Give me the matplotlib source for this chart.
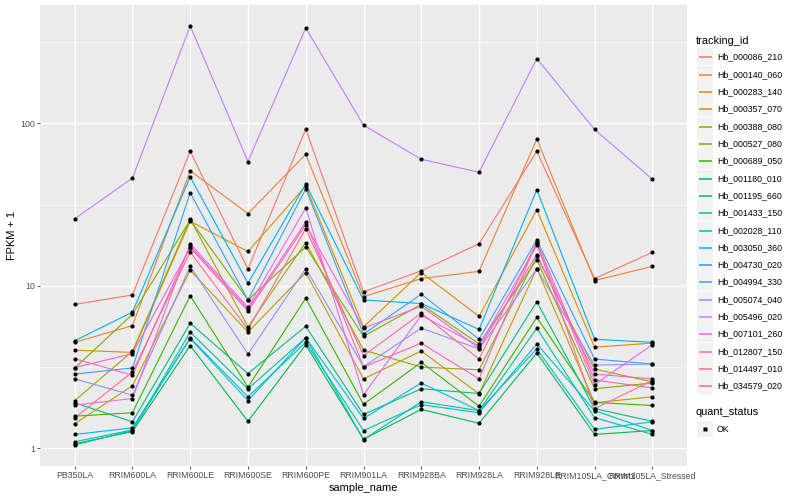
import numpy as np
import matplotlib.pyplot as plt
from matplotlib.patches import Rectangle
from matplotlib.ticker import FixedLocator, NullFormatter

plt.rcParams['font.family'] = ['Liberation Sans', 'DejaVu Sans']

samples = ['PB350LA', 'RRIM600LA', 'RRIM600LE', 'RRIM600SE', 'RRIM600PE', 'RRIM901LA',
           'RRIM928BA', 'RRIM928LA', 'RRIM928LE', 'RRIM105LA_Control', 'RRIM105LA_Stressed']

tracking_ids = ['Hb_000086_210', 'Hb_000140_060', 'Hb_000283_140', 'Hb_000357_070',
                'Hb_000388_080', 'Hb_000527_080', 'Hb_000689_050', 'Hb_001180_010',
                'Hb_001195_660', 'Hb_001433_150', 'Hb_002028_110', 'Hb_003050_360',
                'Hb_004730_020', 'Hb_004994_330', 'Hb_005074_040', 'Hb_005496_020',
                'Hb_007101_260', 'Hb_012807_150', 'Hb_014497_010', 'Hb_034579_020']

# ggplot default hue palette, 20 levels
colors = ['#F8766D', '#EA8331', '#D89000', '#C09B00', '#A3A500', '#7CAE00', '#39B600',
          '#00BB4E', '#00BF7D', '#00C1A3', '#00BFC4', '#00BAE0', '#00B0F6', '#35A2FF',
          '#9590FF', '#C77CFF', '#E76BF3', '#FA62DB', '#FF62BC', '#FF6C91']

# FPKM + 1, one list per gene, in sample order
hb_000086_210 = [7.7, 8.8, 67.4, 12.7, 92.3, 9.2, 12.4, 18.2, 67.4, 11.1, 16.1]
hb_000140_060 = [4.5, 5.7, 51.1, 27.9, 64.6, 8.6, 11.1, 12.3, 80.2, 10.8, 13.2]
hb_000283_140 = [4.03, 3.9, 25.0, 16.3, 41.2, 5.6, 12.1, 6.5, 29.4, 4.2, 4.45]
hb_000357_070 = [1.42, 2.43, 12.5, 5.2, 12.1, 2.68, 3.98, 2.17, 12.8, 1.91, 2.08]
hb_000388_080 = [1.97, 3.96, 25.8, 5.6, 18.5, 4.03, 3.17, 3.05, 15.2, 3.08, 2.57]
hb_000527_080 = [3.12, 6.7, 25.5, 8.2, 17.4, 4.9, 7.7, 4.4, 14.5, 2.33, 2.53]
hb_000689_050 = [1.58, 1.66, 8.7, 2.39, 8.4, 1.87, 3.39, 1.82, 6.4, 1.92, 1.84]
hb_001180_010 = [1.07, 1.27, 4.3, 1.47, 4.35, 1.14, 1.74, 1.43, 3.87, 1.22, 1.29]
hb_001195_660 = [1.91, 1.46, 5.9, 2.89, 5.65, 1.62, 2.33, 2.18, 8.0, 1.76, 1.47]
hb_001433_150 = [1.05, 1.29, 5.2, 2.33, 4.8, 1.135, 1.94, 1.71, 5.5, 1.55, 1.22]
hb_002028_110 = [1.10, 1.30, 4.8, 2.08, 4.5, 1.29, 1.86, 1.66, 4.4, 1.71, 1.29]
hb_003050_360 = [1.22, 1.34, 4.75, 1.97, 4.8, 1.53, 2.53, 1.71, 4.1, 1.31, 1.46]
hb_004730_020 = [4.6, 6.9, 46.9, 10.4, 42.4, 8.2, 7.8, 5.4, 39.1, 4.7, 4.5]
hb_004994_330 = [2.87, 3.13, 37.5, 8.2, 39.5, 5.05, 8.9, 4.7, 19.2, 3.55, 3.31]
hb_005074_040 = [2.68, 2.13, 13.2, 3.81, 12.8, 3.19, 5.5, 4.1, 12.7, 3.26, 3.31]
hb_005496_020 = [25.9, 46.1, 398.0, 58.3, 386.6, 97.6, 60.2, 50.1, 250.8, 91.9, 45.3]
hb_007101_260 = [1.85, 2.03, 18.2, 7.4, 30.2, 2.14, 6.6, 4.27, 17.8, 2.47, 4.35]
hb_012807_150 = [3.15, 3.83, 17.2, 7.0, 23.8, 5.5, 7.5, 4.15, 15.6, 2.87, 2.68]
hb_014497_010 = [3.57, 2.82, 17.6, 7.2, 24.8, 3.17, 4.45, 2.68, 18.7, 2.64, 2.36]
hb_034579_020 = [1.54, 2.96, 16.2, 5.4, 22.5, 3.72, 6.8, 3.55, 18.5, 1.76, 2.62]

fpkm = [hb_000086_210, hb_000140_060, hb_000283_140, hb_000357_070, hb_000388_080,
        hb_000527_080, hb_000689_050, hb_001180_010, hb_001195_660, hb_001433_150,
        hb_002028_110, hb_003050_360, hb_004730_020, hb_004994_330, hb_005074_040,
        hb_005496_020, hb_007101_260, hb_012807_150, hb_014497_010, hb_034579_020]

fig = plt.figure(figsize=(8, 5), dpi=100)
ax = fig.add_axes([40/800, 34/500, 647/800, 461/500])
ax.set_facecolor('#EBEBEB')

x = np.arange(len(samples))
for vals, col in zip(fpkm, colors):
    ax.plot(x, vals, color=col, lw=0.8, zorder=2)
for vals in fpkm:
    ax.plot(x, vals, 'o', color='black', ms=3, mec='none', zorder=3)

# log scale with ggplot-style 5% expansion
ax.set_yscale('log')
allv = np.log10(np.concatenate([np.array(v) for v in fpkm]))
lo, hi = allv.min(), allv.max()
pad = 0.05 * (hi - lo)
ax.set_ylim(10**(lo - pad), 10**(hi + pad))
ax.set_xlim(-0.6, len(samples) - 0.4)

ax.set_yticks([1, 10, 100])
ax.set_yticklabels(['1', '10', '100'])
ax.yaxis.set_minor_locator(FixedLocator([10**0.5, 10**1.5, 10**2.5]))
ax.yaxis.set_minor_formatter(NullFormatter())
ax.set_xticks(x)
ax.set_xticklabels(samples)

ax.grid(which='major', color='white', lw=1.0)
ax.grid(which='minor', axis='y', color='white', lw=0.5)
ax.set_axisbelow(True)
ax.tick_params(which='minor', length=0)
ax.tick_params(which='major', length=2, width=0.6, color='#333333',
               labelsize=6.3, labelcolor='#4D4D4D', pad=1.6)
for s in ax.spines.values():
    s.set_visible(False)

ax.set_xlabel('sample_name', fontsize=7.9, labelpad=2)
ax.set_ylabel('FPKM + 1', fontsize=7.9, labelpad=2)

# legend drawn in pixel space on the right
lax = fig.add_axes([690/800, 0, 110/800, 1])
lax.set_xlim(690, 800)
lax.set_ylim(500, 0)
lax.axis('off')

lax.text(696, 40.5, 'tracking_id', fontsize=7.9, va='center', ha='left')
for i, (tid, col) in enumerate(zip(tracking_ids, colors)):
    yc = np.floor(56.7 + i * 17.33) + 0.5
    lax.add_patch(Rectangle((697, yc - 8.2), 16, 16.4, fc='#F2F2F2', ec='none', zorder=1))
    lax.plot([698.5, 711.5], [yc, yc], color=col, lw=1.1, solid_capstyle='butt', zorder=3)
    lax.text(717, yc, tid, fontsize=6.3, va='center', ha='left')

lax.text(696, 412, 'quant_status', fontsize=7.9, va='center', ha='left')
lax.add_patch(Rectangle((697, 429 - 8.2), 16, 16.4, fc='#F2F2F2', ec='none', zorder=1))
lax.plot([705], [429], 's', color='black', ms=2.6, mec='none', zorder=3)
lax.text(717, 429, 'OK', fontsize=6.3, va='center', ha='left')

fig.savefig('out.png', dpi=100, facecolor='white')
